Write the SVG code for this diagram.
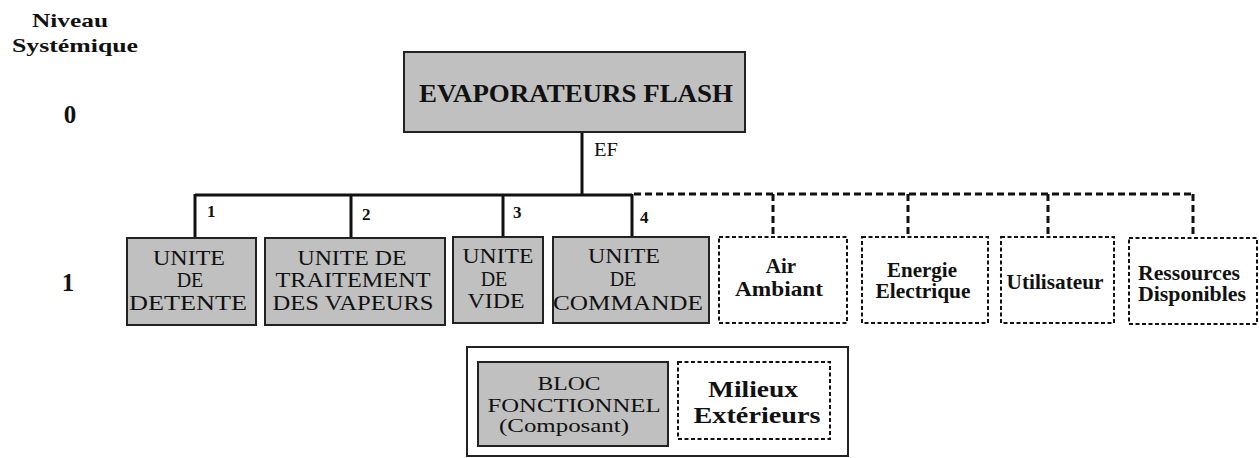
<svg xmlns="http://www.w3.org/2000/svg" width="1259" height="458" viewBox="0 0 1259 458">
<style>
text{font-family:"Times New Roman",Times,"Liberation Serif","DejaVu Serif",serif;fill:#111;}
.b{font-weight:bold;}
.m{text-anchor:middle;}
.gray{fill:#c0c0c0;stroke:#222;stroke-width:2;}
.ext{fill:#fff;stroke:#111;stroke-width:2;stroke-dasharray:4 2.5;}
.solid{fill:none;stroke:#111;stroke-width:3;}
.dash{fill:none;stroke:#111;stroke-width:3;stroke-dasharray:7 4;}
.g20{font-size:20px;}
</style>
<rect width="1259" height="458" fill="#fff"/>
<g id="levels">
<text class="b m" x="70" y="27" font-size="19" textLength="76" lengthAdjust="spacingAndGlyphs">Niveau</text>
<text class="b m" x="75" y="52" font-size="19" textLength="126" lengthAdjust="spacingAndGlyphs">Systémique</text>
<text class="b m" x="70" y="123" font-size="25">0</text>
<text class="b m" x="68" y="291" font-size="25">1</text>
</g>
<g id="connectors">
<path class="solid" d="M582 132V195M195 195H632M195 194V238M351 194V238M503 194V238M632 194V238"/>
<path class="dash" d="M634 194H1193M773 194V237M908 194V237M1048 194V237M1193 194V237"/>
<text x="594" y="156" font-size="19" textLength="24" lengthAdjust="spacingAndGlyphs">EF</text>
<text class="b" x="207" y="217" font-size="17">1</text>
<text class="b" x="362" y="220" font-size="17">2</text>
<text class="b" x="513" y="218" font-size="17">3</text>
<text class="b" x="640" y="223" font-size="17">4</text>
</g>
<g id="ef">
<rect class="gray" x="404" y="52" width="341" height="80"/>
<text class="b m" x="576" y="102" font-size="25" textLength="314" lengthAdjust="spacingAndGlyphs">EVAPORATEURS FLASH</text>
</g>
<g id="detente">
<rect class="gray" x="127" y="238" width="129" height="87"/>
<text class="m g20" x="189" y="265" textLength="72" lengthAdjust="spacingAndGlyphs">UNITE</text>
<text class="m g20" x="190" y="287">DE</text>
<text class="m g20" x="188" y="310" textLength="118" lengthAdjust="spacingAndGlyphs">DETENTE</text>
</g>
<g id="traitement">
<rect class="gray" x="265" y="238" width="180" height="87"/>
<text class="m g20" x="352" y="265" textLength="109" lengthAdjust="spacingAndGlyphs">UNITE DE</text>
<text class="m g20" x="353" y="287" textLength="155" lengthAdjust="spacingAndGlyphs">TRAITEMENT</text>
<text class="m g20" x="353" y="310" textLength="161" lengthAdjust="spacingAndGlyphs">DES VAPEURS</text>
</g>
<g id="vide">
<rect class="gray" x="453" y="237" width="90" height="86"/>
<text class="m g20" x="498" y="263" textLength="71" lengthAdjust="spacingAndGlyphs">UNITE</text>
<text class="m g20" x="494" y="286">DE</text>
<text class="m g20" x="496" y="308" textLength="57" lengthAdjust="spacingAndGlyphs">VIDE</text>
</g>
<g id="commande">
<rect class="gray" x="553" y="237" width="156" height="86"/>
<text class="m g20" x="624" y="263" textLength="72" lengthAdjust="spacingAndGlyphs">UNITE</text>
<text class="m g20" x="623" y="286">DE</text>
<text class="m g20" x="628" y="310" textLength="150" lengthAdjust="spacingAndGlyphs">COMMANDE</text>
</g>
<g id="air">
<rect class="ext" x="719" y="237" width="128" height="86"/>
<text class="b m" x="781" y="273" font-size="21">Air</text>
<text class="b m" x="779" y="296" font-size="21" textLength="88" lengthAdjust="spacingAndGlyphs">Ambiant</text>
</g>
<g id="energie">
<rect class="ext" x="862" y="237" width="126" height="86"/>
<text class="b m" x="922" y="277" font-size="20" textLength="70" lengthAdjust="spacingAndGlyphs">Energie</text>
<text class="b m" x="923" y="298" font-size="20" textLength="95" lengthAdjust="spacingAndGlyphs">Electrique</text>
</g>
<g id="utilisateur">
<rect class="ext" x="1001" y="237" width="113" height="86"/>
<text class="b m" x="1055" y="289" font-size="21" textLength="97" lengthAdjust="spacingAndGlyphs">Utilisateur</text>
</g>
<g id="ressources">
<rect class="ext" x="1129" y="238" width="128" height="86"/>
<text class="b m" x="1189" y="280" font-size="20" textLength="102" lengthAdjust="spacingAndGlyphs">Ressources</text>
<text class="b m" x="1192" y="301" font-size="20" textLength="108" lengthAdjust="spacingAndGlyphs">Disponibles</text>
</g>
<g id="legend">
<rect x="467" y="347" width="381" height="109" fill="#fff" stroke="#222" stroke-width="2"/>
<g id="legend-bloc">
<rect class="gray" x="478" y="362" width="190" height="84"/>
<text class="m" x="569" y="390" font-size="18" textLength="63" lengthAdjust="spacingAndGlyphs">BLOC</text>
<text class="m" x="574" y="412" font-size="18" textLength="173" lengthAdjust="spacingAndGlyphs">FONCTIONNEL</text>
<text class="m" x="564" y="432" font-size="18" textLength="130" lengthAdjust="spacingAndGlyphs">(Composant)</text>
</g>
<g id="legend-milieux">
<rect class="ext" x="678" y="362" width="152" height="77"/>
<text class="b m" x="753" y="397" font-size="24" textLength="90" lengthAdjust="spacingAndGlyphs">Milieux</text>
<text class="b m" x="757" y="423" font-size="24" textLength="127" lengthAdjust="spacingAndGlyphs">Extérieurs</text>
</g>
</g>
</svg>
